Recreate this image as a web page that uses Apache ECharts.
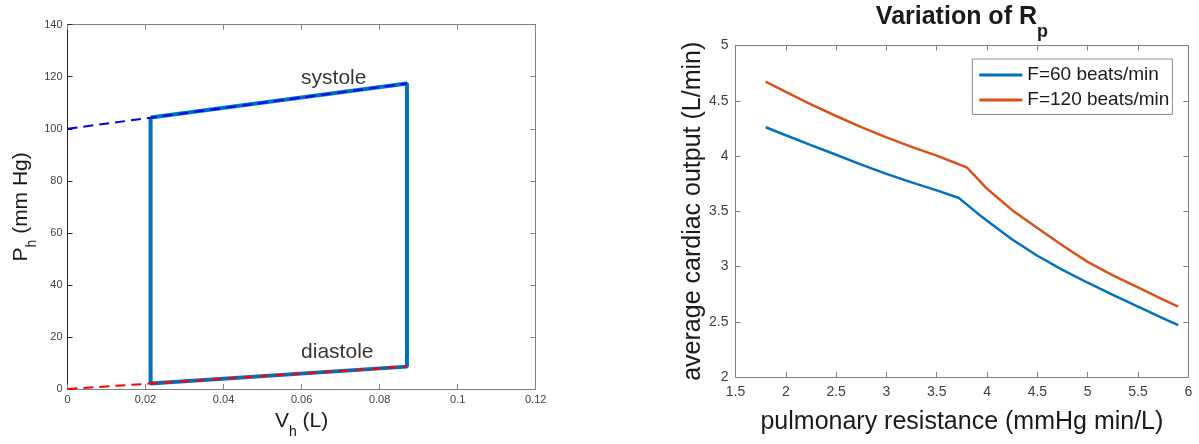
<!DOCTYPE html>
<html>
<head>
<meta charset="utf-8">
<script src="https://cdn.jsdelivr.net/npm/echarts@6/dist/echarts.min.js"></script>
<style>
html,body{margin:0;padding:0;background:#fff;}
#chart{width:1199px;height:444px;}
</style>
</head>
<body>
<div id="chart"></div>
<script>
// ---- Left panel: pressure-volume loop ----
const pvLoopVolume   = [0.0213, 0.0870, 0.0870, 0.0213, 0.0213];
const pvLoopPressure = [104.3, 117.4, 8.6, 2.1, 104.3];
const systoleLineVolume   = [0, 0.0870];
const systoleLinePressure = [100, 117.4];
const diastoleLineVolume   = [0, 0.0870];
const diastoleLinePressure = [0, 8.6];
const annotationText     = ['systole', 'diastole'];
const annotationVolume   = [0.0600, 0.0600];
const annotationPressure = [119.3, 14.0];
const leftXTicks = {min: 0, max: 0.12, interval: 0.02};
const leftYTicks = {min: 0, max: 140, interval: 20};

// ---- Right panel: cardiac output vs pulmonary resistance ----
const resistance = [1.8, 2.0, 2.25, 2.5, 2.75, 3.0, 3.25, 3.5, 3.72, 3.8, 3.9, 4.0, 4.25, 4.5, 4.75, 5.0, 5.25, 5.5, 5.75, 5.9];
const outputF60  = [4.26, 4.188, 4.098, 4.011, 3.922, 3.838, 3.761, 3.689, 3.620, 3.560, 3.485, 3.415, 3.245, 3.097, 2.970, 2.853, 2.743, 2.637, 2.530, 2.470];
const outputF120 = [4.673, 4.580, 4.468, 4.362, 4.262, 4.168, 4.083, 4.004, 3.925, 3.896, 3.800, 3.703, 3.510, 3.348, 3.190, 3.042, 2.920, 2.811, 2.700, 2.637];
const seriesNames = ['F=60 beats/min', 'F=120 beats/min'];
const rightXTicks = {min: 1.5, max: 6, interval: 0.5};
const rightYTicks = {min: 2, max: 5, interval: 0.5};

const zip = (a, b) => a.map((v, i) => [v, b[i]]);

const FONT = 'Liberation Sans, Arial, Helvetica, sans-serif';
const tickLabelColor = '#404040';
const axisColor = '#808080';

function boxAxis(grid, ticks, position, showLabel, labelSize, margin, lineColor) {
  return {
    type: 'value', gridIndex: grid, position: position,
    min: ticks.min, max: ticks.max, interval: ticks.interval,
    axisLine: {show: true, onZero: false, lineStyle: {color: lineColor || axisColor, width: 1}},
    axisTick: {show: true, inside: true, length: 5, lineStyle: {color: lineColor || axisColor}},
    axisLabel: {show: showLabel, fontFamily: FONT, fontSize: labelSize, color: tickLabelColor, margin: margin},
    splitLine: {show: false}
  };
}

const subRich = (main, sub, bold, subPad) => ({
  a: {fontSize: main, fontFamily: FONT, color: '#1a1a1a', fontWeight: bold ? 'bold' : 'normal'},
  b: {fontSize: sub, fontFamily: FONT, color: '#1a1a1a', fontWeight: bold ? 'bold' : 'normal', padding: [subPad, 0, 0, 0]}
});

const xL = boxAxis(0, leftXTicks, 'bottom', true, 11, 5);
xL.name = '{a|V}{b|h}{a| (L)}';
xL.nameLocation = 'middle';
xL.nameGap = 14;
xL.nameTextStyle = {rich: subRich(21, 14, false, 22), verticalAlign: 'top'};
const xLTop = boxAxis(0, leftXTicks, 'top', false, 11, 5);

const yL = boxAxis(0, leftYTicks, 'left', true, 11, 5, '#262626');
yL.name = '{a|P}{b|h}{a| (mm Hg)}';
yL.nameLocation = 'middle';
yL.nameGap = 28;
yL.nameTextStyle = {rich: subRich(21, 14, false, 22)};
const yLRight = boxAxis(0, leftYTicks, 'right', false, 11, 5);

const xR = boxAxis(1, rightXTicks, 'bottom', true, 14, 8);
xR.name = 'pulmonary resistance (mmHg min/L)';
xR.nameLocation = 'middle';
xR.nameGap = 33;
xR.nameTextStyle = {fontSize: 25, fontFamily: FONT, color: '#1a1a1a'};
const xRTop = boxAxis(1, rightXTicks, 'top', false, 14, 8);
xRTop.name = '{a|Variation of R}{b|p}';
xRTop.nameLocation = 'middle';
xRTop.nameGap = 4;
xRTop.nameTextStyle = {rich: subRich(25, 18, true, 30)};

const yR = boxAxis(1, rightYTicks, 'left', true, 14, 7);
yR.name = 'average cardiac output (L/min)';
yR.nameLocation = 'middle';
yR.nameGap = 30;
yR.nameTextStyle = {fontSize: 25, fontFamily: FONT, color: '#1a1a1a'};
const yRRight = boxAxis(1, rightYTicks, 'right', false, 14, 7);

const option = {
  animation: false,
  backgroundColor: '#ffffff',
  textStyle: {fontFamily: FONT},
  grid: [
    {left: 67.5, right: 1199 - 535.7, top: 24.7, bottom: 444 - 394.5, containLabel: false},
    {left: 735.5, right: 1199 - 1188.3, top: 45, bottom: 444 - 377, containLabel: false}
  ],
  xAxis: [xL, xLTop, xR, xRTop],
  yAxis: [yL, yLRight, yR, yRRight],
  legend: {
    data: seriesNames,
    orient: 'vertical',
    left: 972.3, top: 59,
    padding: [6.5, 3, 5, 7],
    itemGap: 6,
    itemWidth: 43, itemHeight: 3,
    icon: 'rect',
    borderColor: '#8a8a8a', borderWidth: 1,
    backgroundColor: '#ffffff',
    textStyle: {fontFamily: FONT, fontSize: 19, color: '#1a1a1a'}
  },
  series: [
    {
      type: 'line', xAxisIndex: 0, yAxisIndex: 0,
      data: zip(pvLoopVolume, pvLoopPressure),
      showSymbol: false, symbol: 'none',
      lineStyle: {color: '#0072BD', width: 4},
      z: 2
    },
    {
      type: 'line', xAxisIndex: 0, yAxisIndex: 0,
      data: zip(systoleLineVolume, systoleLinePressure),
      showSymbol: false, symbol: 'none',
      lineStyle: {color: '#0000FF', width: 2, type: [10, 6]},
      z: 3
    },
    {
      type: 'line', xAxisIndex: 0, yAxisIndex: 0,
      data: zip(diastoleLineVolume, diastoleLinePressure),
      showSymbol: false, symbol: 'none',
      lineStyle: {color: '#FF0000', width: 2, type: [10, 6]},
      z: 3
    },
    {
      type: 'scatter', xAxisIndex: 0, yAxisIndex: 0,
      data: annotationText.map((t, i) => ({value: [annotationVolume[i], annotationPressure[i]], name: t})),
      symbol: 'circle',
      symbolSize: 1,
      itemStyle: {color: 'rgba(0,0,0,0)'},
      label: {
        show: true, position: [0, 0], align: 'left', verticalAlign: 'middle',
        formatter: p => p.name, fontFamily: FONT, fontSize: 21, color: '#000000'
      },
      silent: true, z: 4
    },
    {
      name: seriesNames[0], type: 'line', xAxisIndex: 2, yAxisIndex: 2,
      data: zip(resistance, outputF60),
      showSymbol: false, symbol: 'none',
      itemStyle: {color: '#0072BD'},
      lineStyle: {color: '#0072BD', width: 2.5}
    },
    {
      name: seriesNames[1], type: 'line', xAxisIndex: 2, yAxisIndex: 2,
      data: zip(resistance, outputF120),
      showSymbol: false, symbol: 'none',
      itemStyle: {color: '#D95319'},
      lineStyle: {color: '#D95319', width: 2.5}
    }
  ]
};

const chart = echarts.init(document.getElementById('chart'), null, {renderer: 'canvas'});
chart.setOption(option);
</script>
</body>
</html>
